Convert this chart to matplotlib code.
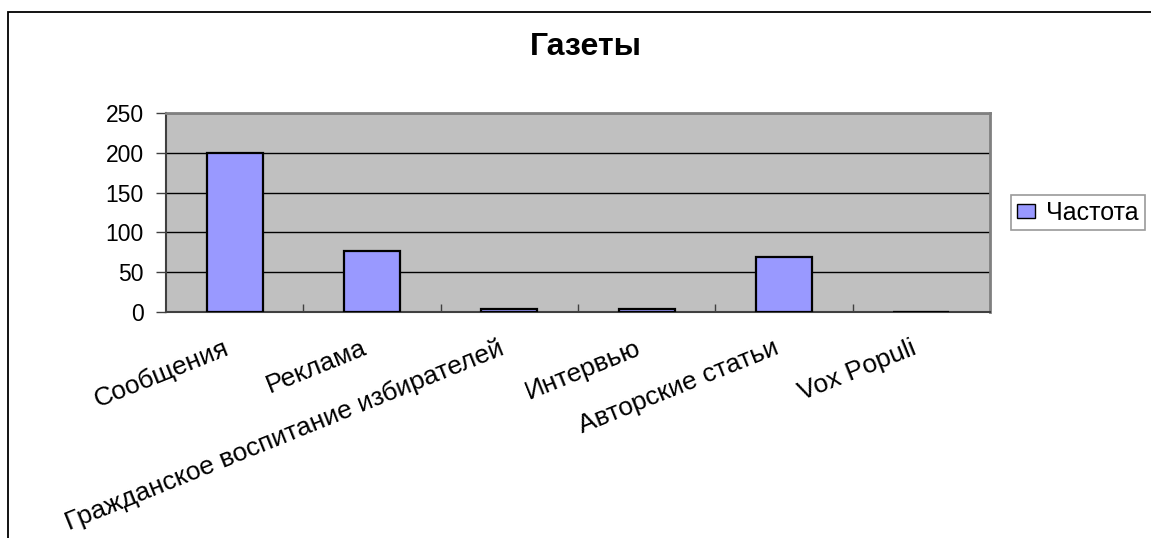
import matplotlib.pyplot as plt
from matplotlib.patches import Rectangle
from matplotlib.transforms import ScaledTranslation
import numpy as np

# Categories and counts
categories = ["Сообщения", "Реклама", "Гражданское воспитание избирателей",
              "Интервью", "Авторские статьи", "Vox Populi"]
values = [200, 77, 4, 4, 69, 0]
y_ticks = [0, 50, 100, 150, 200, 250]
series_name = "Частота"
title = "Газеты"

plt.rcParams['font.family'] = ['Liberation Sans', 'DejaVu Sans']

W, H = 1151, 538
fig = plt.figure(figsize=(W / 100, H / 100), dpi=100)
fig.patch.set_facecolor('white')

# outer chart frame (runs off the right and bottom edges)
fig.patches.append(Rectangle((8 / W, -0.1), 1.2, 1.1 - 12 / H, transform=fig.transFigure,
                             fill=False, edgecolor='black', linewidth=1.3))

ax = fig.add_axes([166 / W, 1 - 312 / H, (990 - 166) / W, (312 - 113) / H])
ax.set_facecolor('#C0C0C0')

x = np.arange(len(categories))
ax.bar(x, values, width=0.41, color='#9999FF', edgecolor='black', linewidth=1.6,
       label=series_name, zorder=3)

ax.set_xlim(-0.5, len(categories) - 0.5)
ax.set_ylim(0, 250)
ax.set_yticks(y_ticks)
ax.set_yticklabels([str(v) for v in y_ticks], fontsize=16.5)
ax.yaxis.grid(True, color='black', linewidth=1.0, zorder=1)
ax.tick_params(axis='y', direction='out', length=7, width=1, color='#404040', pad=9)

# category labels on major ticks, tick marks between categories on minor ticks
ax.set_xticks(x)
ax.set_xticklabels(categories, rotation=22, ha='right', rotation_mode='anchor', fontsize=19)
ax.tick_params(axis='x', which='major', length=0, pad=17)
shift = ScaledTranslation(-11 / 100, 0, fig.dpi_scale_trans)
for lbl in ax.get_xticklabels():
    lbl.set_transform(lbl.get_transform() + shift)
ax.set_xticks(np.arange(0.5, len(categories) - 0.5, 1), minor=True)
ax.tick_params(axis='x', which='minor', direction='in', length=6, width=1, color='#404040')

for side in ['top', 'right']:
    ax.spines[side].set_color('#808080')
    ax.spines[side].set_linewidth(2)
for side in ['left', 'bottom']:
    ax.spines[side].set_color('#404040')
    ax.spines[side].set_linewidth(1.5)

fig.text(586 / W, 1 - 47 / H, title, ha='center', va='center', fontsize=23,
         fontweight='bold')

leg = fig.legend(loc='upper left', bbox_to_anchor=(1011 / W, 1 - 195 / H),
                 bbox_transform=fig.transFigure, fontsize=18, frameon=True,
                 fancybox=False, edgecolor='#808080', borderaxespad=0,
                 handlelength=0.75, handleheight=0.5, handletextpad=0.45,
                 borderpad=0.22)
leg.get_frame().set_linewidth(1.2)
for h in leg.legend_handles:
    h.set_linewidth(1.0)

fig.savefig('out.png', dpi=100)
